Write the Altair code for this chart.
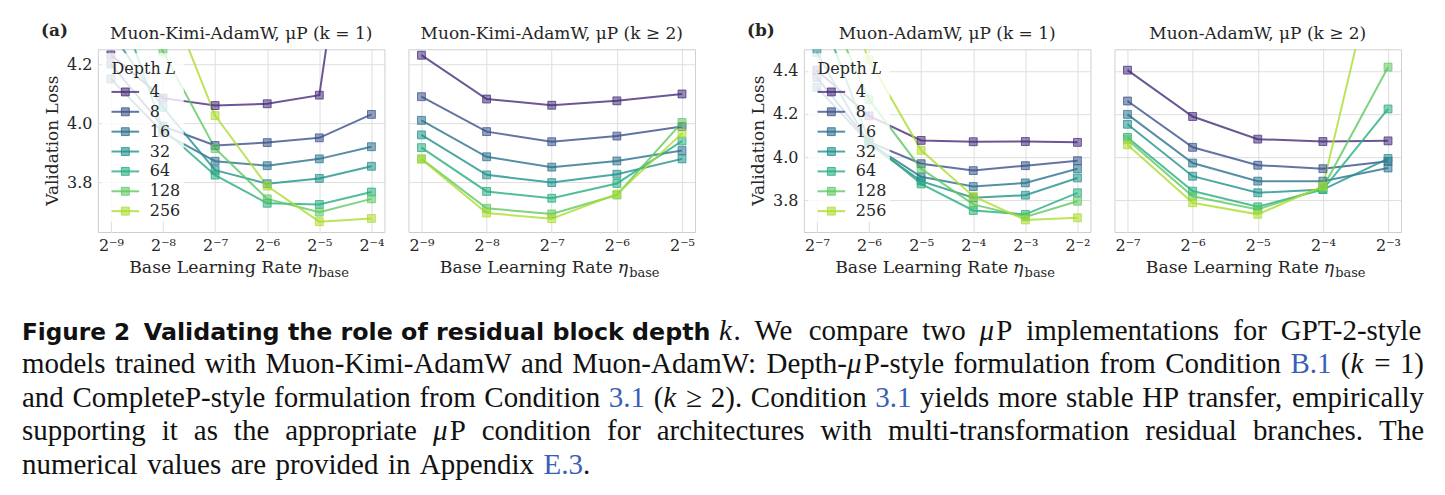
import re
import altair as alt
import pandas as pd

# ---------------------------------------------------------------- data
DEPTHS = ["4", "8", "16", "32", "64", "128", "256"]
COLORS = ["#472d7b", "#3b528b", "#2c728e", "#21918c", "#28ae80", "#5ec962", "#addc30"]

# x values are log2 of the base learning rate
KIMI_K1_LR = [-9, -8, -7, -6, -5, -4]
KIMI_K1 = {
    "4":   [4.231, 4.085, 4.060, 4.066, 4.095, 5.300],
    "8":   [4.200, 3.990, 3.925, 3.935, 3.951, 4.030],
    "16":  [4.150, 3.968, 3.872, 3.857, 3.880, 3.921],
    "32":  [4.310, 4.054, 3.842, 3.796, 3.814, 3.855],
    "64":  [4.480, 3.980, 3.825, 3.730, 3.726, 3.768],
    "128": [4.620, 4.242, 3.915, 3.745, 3.700, 3.745],
    "256": [4.950, 4.470, 4.026, 3.788, 3.668, 3.679],
}

KIMI_K2_LR = [-9, -8, -7, -6, -5]
KIMI_K2 = {
    "4":   [4.230, 4.082, 4.061, 4.076, 4.099],
    "8":   [4.090, 3.972, 3.938, 3.957, 3.989],
    "16":  [4.010, 3.887, 3.852, 3.873, 3.908],
    "32":  [3.961, 3.826, 3.800, 3.828, 3.880],
    "64":  [3.918, 3.770, 3.747, 3.797, 3.940],
    "128": [3.880, 3.713, 3.694, 3.758, 4.003],
    "256": [3.879, 3.697, 3.678, 3.761, 3.966],
}

ADAMW_K1_LR = [-7, -6, -5, -4, -3, -2]
ADAMW_K1 = {
    "4":   [4.403, 4.191, 4.077, 4.071, 4.072, 4.068],
    "8":   [4.369, 4.070, 3.969, 3.937, 3.960, 3.983],
    "16":  [4.323, 4.065, 3.908, 3.863, 3.880, 3.946],
    "32":  [4.485, 4.060, 3.888, 3.811, 3.823, 3.903],
    "64":  [4.720, 4.075, 3.875, 3.752, 3.734, 3.834],
    "128": [4.810, 4.266, 3.946, 3.780, 3.722, 3.795],
    "256": [5.040, 4.451, 4.031, 3.818, 3.708, 3.718],
}

ADAMW_K2_LR = [-7, -6, -5, -4, -3]
ADAMW_K2 = {
    "4":   [4.403, 4.188, 4.083, 4.072, 4.075],
    "8":   [4.260, 4.045, 3.962, 3.946, 3.980],
    "16":  [4.198, 3.972, 3.888, 3.888, 3.949],
    "32":  [4.152, 3.911, 3.834, 3.849, 3.993],
    "64":  [4.091, 3.842, 3.769, 3.849, 4.223],
    "128": [4.080, 3.818, 3.757, 3.857, 4.417],
    "256": [4.057, 3.788, 3.734, 3.865, 5.140],
}

TITLES = [
    "Muon-Kimi-AdamW, μP (k = 1)",
    "Muon-Kimi-AdamW, μP (k ≥ 2)",
    "Muon-AdamW, μP (k = 1)",
    "Muon-AdamW, μP (k ≥ 2)",
]

# caption text; *x* = italic, [x] = link colour
CAPTION_LEAD = ["Figure 2", "Validating the role of residual block depth"]
CAPTION_LINE1 = ["*k*.", "We", "compare", "two", "*μ*P", "implementations", "for", "GPT-2-style"]
CAPTION_LINES = [
    ["models", "trained", "with", "Muon-Kimi-AdamW", "and", "Muon-AdamW:", "Depth-*μ*P-style",
     "formulation", "from", "Condition", "[B.1]", "(*k*", "=", "1)"],
    ["and", "CompleteP-style", "formulation", "from", "Condition", "[3.1]", "(*k*", "≥", "2).",
     "Condition", "[3.1]", "yields", "more", "stable", "HP", "transfer,", "empirically"],
    ["supporting", "it", "as", "the", "appropriate", "*μ*P", "condition", "for", "architectures",
     "with", "multi-transformation", "residual", "branches.", "The"],
    ["numerical", "values", "are", "provided", "in", "Appendix", "[E.3]."],
]

# ---------------------------------------------------------------- style
FONT = "DejaVu Serif"
INK = "#262626"
W, H = 287, 183
PANEL_LEFT, PANEL_TOP = 97, 48
CSCALE = alt.Scale(domain=DEPTHS, range=COLORS)
SUP = ["⁰", "¹", "²", "³", "⁴", "⁵", "⁶", "⁷", "⁸", "⁹"]
X_LABEL_EXPR = "'2⁻' + " + str(SUP) + "[abs(datum.value)]"
CLEAR = alt.ViewBackground(stroke="transparent")

ONE = pd.DataFrame({"t": [""]})


def txt(s, x, y, size=17, align="center", font=FONT, style="normal", weight="normal",
        angle=0, color=INK, baseline="alphabetic"):
    return alt.Chart(pd.DataFrame({"t": [s]})).mark_text(
        align=align, baseline=baseline, font=font, fontSize=size, fontStyle=style,
        fontWeight=weight, angle=angle, color=color,
    ).encode(text="t:N", x=alt.value(x), y=alt.value(y))


def legend_layers():
    ldf = pd.DataFrame({"depth": DEPTHS, "row": list(range(len(DEPTHS)))})
    ly = alt.Y("row:Q", scale=alt.Scale(domain=[0, len(DEPTHS) - 1], range=[42.7, 162.1]), axis=None)
    col = alt.Color("depth:N", scale=CSCALE, legend=None)
    bg = alt.Chart(ONE).mark_rect(fill="white", opacity=0.8).encode(
        x=alt.value(4), x2=alt.value(86), y=alt.value(4), y2=alt.value(173))
    rule = alt.Chart(ldf).mark_rule(strokeWidth=2, opacity=0.8).encode(
        x=alt.value(13.7), x2=alt.value(41.3), y=ly, color=col)
    sq = alt.Chart(ldf).mark_square(size=62, fillOpacity=0.6, strokeOpacity=0.8, strokeWidth=1).encode(
        x=alt.value(27.5), y=ly, color=col,
        stroke=alt.Stroke("depth:N", scale=CSCALE, legend=None))
    lab = alt.Chart(ldf).mark_text(align="left", baseline="middle", font=FONT, fontSize=16,
                                   color=INK).encode(x=alt.value(52), y=ly, text="depth:N")
    return [bg, rule, sq, lab,
            txt("Depth", 13.7, 24.5, size=16, align="left"),
            txt("L", 67.5, 24.5, size=16, align="left", style="italic")]


# ---------------------------------------------------------------- caption layout
CAP_SIZE = 29
CAP_LEFT, CAP_RIGHT = 21, 1425
LAST_LINE_RIGHT = 590
CAP_BASELINES = [339, 372.5, 406, 439.5, 473]
TIMES = {" ": 250, "a": 444, "b": 500, "c": 444, "d": 500, "e": 444, "f": 333, "g": 500, "h": 500,
         "i": 278, "j": 278, "k": 500, "l": 278, "m": 778, "n": 500, "o": 500, "p": 500, "q": 500,
         "r": 333, "s": 389, "t": 278, "u": 500, "v": 500, "w": 722, "x": 500, "y": 500, "z": 444,
         "A": 722, "B": 667, "C": 667, "D": 722, "E": 611, "F": 556, "G": 722, "H": 722, "I": 333,
         "J": 389, "K": 722, "L": 611, "M": 889, "N": 722, "O": 722, "P": 556, "Q": 722, "R": 667,
         "S": 556, "T": 611, "U": 722, "V": 722, "W": 944, "X": 722, "Y": 722, "Z": 611,
         ".": 250, ",": 250, ":": 278, "-": 333, "(": 333, ")": 333, "=": 564, "μ": 576, "≥": 549}


def tw(s):
    return sum(TIMES.get(ch, 500) for ch in s) * CAP_SIZE / 1000


def parse(word):
    out = []
    for part in re.split(r"(\*[^*]+\*|\[[^\]]+\])", word):
        if not part:
            continue
        if part.startswith("*"):
            out.append((part[1:-1], "i"))
        elif part.startswith("["):
            out.append((part[1:-1], "l"))
        else:
            out.append((part, "r"))
    return out


def layout(words, left, right, base):
    parsed = [parse(w) for w in words]
    widths = [sum(tw(t) for t, _ in p) for p in parsed]
    gap = (right - left - sum(widths)) / (len(words) - 1)
    items, x = [], left
    for p, w in zip(parsed, widths):
        px = x
        for t, kind in p:
            items.append({"text": t, "x": px - PANEL_LEFT, "y": base - PANEL_TOP, "kind": kind})
            px += tw(t)
        x += w + gap
    return items


cap_items = [
    {"text": CAPTION_LEAD[0], "x": 21 - PANEL_LEFT, "y": CAP_BASELINES[0] - PANEL_TOP, "kind": "b1"},
    {"text": CAPTION_LEAD[1], "x": 143 - PANEL_LEFT, "y": CAP_BASELINES[0] - PANEL_TOP, "kind": "b2"},
]
cap_items += layout(CAPTION_LINE1, 719, CAP_RIGHT, CAP_BASELINES[0])
for i, line in enumerate(CAPTION_LINES):
    right = LAST_LINE_RIGHT if i == len(CAPTION_LINES) - 1 else CAP_RIGHT
    cap_items += layout(line, CAP_LEFT, right, CAP_BASELINES[i + 1])
cap_df = pd.DataFrame(cap_items)

CAP_STYLES = {
    "r": dict(font="Liberation Serif", fontSize=CAP_SIZE, color="#111111"),
    "i": dict(font="Liberation Serif", fontSize=CAP_SIZE, fontStyle="italic", color="#111111"),
    "l": dict(font="Liberation Serif", fontSize=CAP_SIZE, color="#3a5fb8"),
    "b1": dict(font="DejaVu Sans", fontSize=23.2, fontWeight="bold", color="#111111"),
    "b2": dict(font="DejaVu Sans", fontSize=23.8, fontWeight="bold", color="#111111"),
}


def caption_layers():
    layers = [
        # full-figure frame so the page keeps its 1445 x 495 extent
        alt.Chart(ONE).mark_rect(opacity=0).encode(
            x=alt.value(-PANEL_LEFT), x2=alt.value(1445 - PANEL_LEFT),
            y=alt.value(-PANEL_TOP), y2=alt.value(495 - PANEL_TOP))
    ]
    for kind, st in CAP_STYLES.items():
        sub = cap_df[cap_df["kind"] == kind]
        layers.append(
            alt.Chart(sub).mark_text(align="left", baseline="alphabetic", **st).encode(
                x=alt.X("x:Q", scale=None, axis=None), y=alt.Y("y:Q", scale=None, axis=None),
                text="text:N"))
    return layers


# ---------------------------------------------------------------- panels
def panel(lrs, series, ydom, yticks, title, show_y, tag=None, with_caption=False):
    rows = [{"depth": d, "lr": x, "loss": v} for d in DEPTHS for x, v in zip(lrs, series[d])]
    df = pd.DataFrame(rows)
    pad = 0.05 * (lrs[-1] - lrs[0])
    x = alt.X("lr:Q", scale=alt.Scale(domain=[lrs[0] - pad, lrs[-1] + pad], nice=False, zero=False),
              axis=alt.Axis(values=lrs, labelExpr=X_LABEL_EXPR, title=None, labelPadding=19,
                            labelBaseline="alphabetic", labelFontSize=16))
    y = alt.Y("loss:Q", scale=alt.Scale(domain=ydom, nice=False, zero=False),
              axis=alt.Axis(values=yticks, format=".1f", title=None, labels=show_y, labelPadding=6,
                            labelFontSize=16))
    col = alt.Color("depth:N", scale=CSCALE, legend=None)
    base = alt.Chart(df).encode(x=x, y=y)
    lines = base.mark_line(strokeWidth=2, opacity=0.8, clip=True).encode(color=col, order="lr:Q")
    squares = base.mark_square(size=62, fillOpacity=0.55, strokeOpacity=0.75, strokeWidth=1,
                               clip=True).encode(
        color=col, stroke=alt.Stroke("depth:N", scale=CSCALE, legend=None))
    data_layer = alt.layer(lines, squares)

    extras = []
    if show_y:
        extras += legend_layers()
        extras.append(txt("Validation Loss", -40, H / 2, angle=270))
    extras.append(txt(title, W / 2, -10))
    extras.append(txt("Base Learning Rate", W / 2 + 61, H + 41.5, align="right", size=17.3))
    extras.append(txt("η", W / 2 + 66, H + 41.5, align="left", style="italic", size=17.3))
    extras.append(txt("base", W / 2 + 77.5, H + 45.5, size=13, align="left"))
    if tag:
        extras.append(txt(tag, -57, -13, weight="bold", align="left"))
    if with_caption:
        extras += caption_layers()
    return alt.layer(data_layer, *extras).resolve_scale(
        x="independent", y="independent").properties(width=W, height=H)


YA = [3.633, 4.25]
YB = [3.652, 4.5]
pA1 = panel(KIMI_K1_LR, KIMI_K1, YA, [3.8, 4.0, 4.2], TITLES[0], True, "(a)", with_caption=True)
pA2 = panel(KIMI_K2_LR, KIMI_K2, YA, [3.8, 4.0, 4.2], TITLES[1], False)
pB1 = panel(ADAMW_K1_LR, ADAMW_K1, YB, [3.8, 4.0, 4.2, 4.4], TITLES[2], True, "(b)")
pB2 = panel(ADAMW_K2_LR, ADAMW_K2, YB, [3.8, 4.0, 4.2, 4.4], TITLES[3], False)

# empty column that widens the gap between groups (a) and (b)
gap = alt.Chart(ONE).mark_point(opacity=0).encode(
    x=alt.value(0), y=alt.value(0)).properties(width=61, height=H, view=CLEAR)

chart = alt.hconcat(pA1, pA2, gap, pB1, pB2, spacing=24, bounds="flush").properties(
    padding=0, background="white"
).configure_view(stroke="#cfcfcf", strokeWidth=1).configure_axis(
    grid=True, gridColor="#dedede", gridWidth=1, domain=False, ticks=False,
    labelFont=FONT, labelColor=INK,
)

chart.save("out.html", embed_options={"renderer": "svg", "actions": False})
